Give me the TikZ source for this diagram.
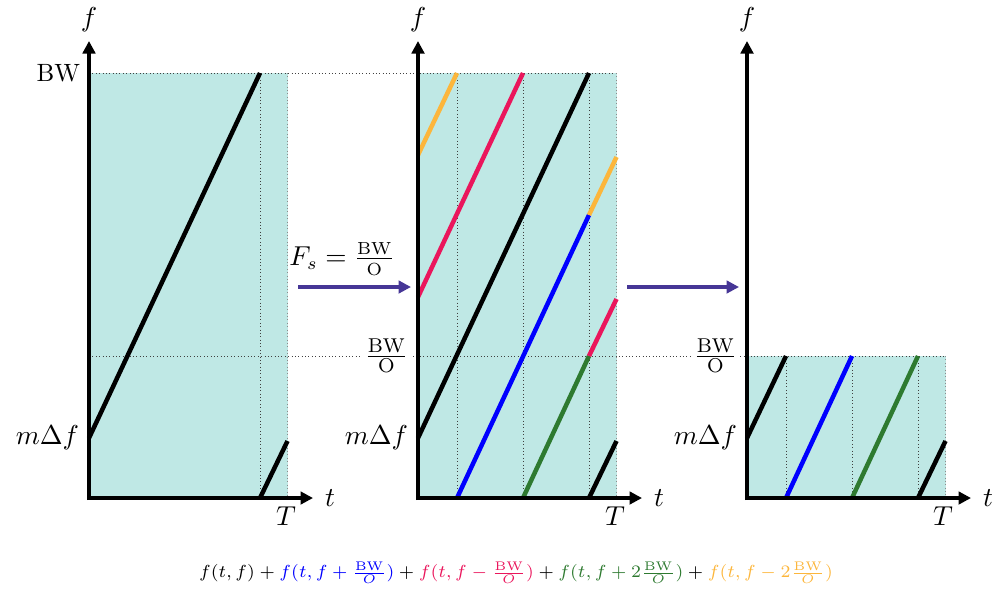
\documentclass[tikz,border=0pt]{standalone}
\usetikzlibrary{arrows.meta}
\definecolor{shadec}{RGB}{191,232,229}
\definecolor{cblue}{RGB}{0,0,255}
\definecolor{cred}{RGB}{234,22,92}
\definecolor{cgreen}{RGB}{46,122,48}
\definecolor{corange}{RGB}{252,182,60}
\definecolor{carrow}{RGB}{70,54,150}
\begin{document}
\begin{tikzpicture}[x=0.4pt,y=-0.4pt,font=\fontsize{11}{13}\selectfont,
  axis/.style={line width=1.7pt,-{Triangle[length=5pt,width=5pt]}},
  chirp/.style={line width=1.8pt},
  guide/.style={densely dotted,line width=0.35pt,black!75},
  edge/.style={densely dotted,line width=0.35pt,black!45},
  bigarrow/.style={line width=1.6pt,carrow,-{Triangle[length=5pt,width=5pt]}},
  lbl/.style={inner sep=1pt}]
\useasboundingbox (0,0) rectangle (997,593);

% origins
\coordinate (o1) at (89,498);
\coordinate (o2) at (418,498);
\coordinate (o3) at (747,498);

% shaded regions
\fill[shadec] (89,73) rectangle (287.5,498);
\fill[shadec] (418,73) rectangle (616.5,498);
\fill[shadec] (747,356) rectangle (945.5,498);

% guide lines
\coordinate (g1a) at (89,73);  \coordinate (g1b) at (616.5,73);
\draw[guide] (g1a) -- (g1b);
\coordinate (g2a) at (89,356); \coordinate (g2b) at (945.5,356);
\draw[guide] (g2a) -- (g2b);
% panel 1
\draw[guide] (260,73) -- (260,498);
\draw[edge] (287.5,73) -- (287.5,498);
% panel 2
\draw[guide] (457,73) -- (457,498);
\draw[guide] (523,73) -- (523,498);
\draw[guide] (589,73) -- (589,498);
\draw[edge] (616.5,73) -- (616.5,498);
% panel 3
\draw[guide] (786,356) -- (786,498);
\draw[guide] (852,356) -- (852,498);
\draw[guide] (918,356) -- (918,498);
\draw[edge] (945.5,356) -- (945.5,498);

% chirps panel 1
\draw[chirp] (89,438) -- (260,73);
\draw[chirp] (260,498) -- (287.5,441);
% chirps panel 2
\draw[chirp,corange] (418,155) -- (457,73);
\draw[chirp,cred] (418,297) -- (523,73);
\draw[chirp] (418,438) -- (589,73);
\draw[chirp,cblue] (457,498) -- (589,215);
\draw[chirp,corange] (589,215) -- (616.5,157);
\draw[chirp,cgreen] (523,498) -- (589,356);
\draw[chirp,cred] (589,356) -- (616.5,299);
\draw[chirp] (589,498) -- (616.5,441);
% chirps panel 3
\draw[chirp] (747,438) -- (786,356);
\draw[chirp,cblue] (786,498) -- (852,356);
\draw[chirp,cgreen] (852,498) -- (918,356);
\draw[chirp] (918,498) -- (945.5,441);

% axes
\foreach \o/\n in {o1/1,o2/2,o3/3}{
  \draw[axis] ([yshift=-0.8pt]\o) -- ++(0,-459) node[above=2pt,lbl] (f\n) {$f$};
  \draw[axis] ([xshift=-0.8pt]\o) -- ++(226,0) node[right=3pt,lbl] (t\n) {$t$};
}
% T labels
\node[lbl] (T1) at (286,516) {$T$};
\node[lbl] (T2) at (615,516) {$T$};
\node[lbl] (T3) at (943,516) {$T$};

% left labels
\node[lbl,anchor=east,font=\normalsize] (bw1) at (83,73) {BW};
\node[lbl,anchor=east] (md1) at (82,438) {$m\Delta f$};
\node[lbl,anchor=east] (md2) at (411,438) {$m\Delta f$};
\node[lbl,anchor=east] (md3) at (740,438) {$m\Delta f$};
\node[lbl,anchor=east,fill=white] (bo2) at (411,356) {$\frac{\mathrm{BW}}{\mathrm{O}}$};
\node[lbl,anchor=east,fill=white] (bo3) at (740,356) {$\frac{\mathrm{BW}}{\mathrm{O}}$};

% transformation arrows
\coordinate (a1s) at (298,287); \coordinate (a1e) at (411,287);
\draw[bigarrow] (a1s) -- (a1e);
\node[lbl,font=\fontsize{10.5}{12}\selectfont] (fs) at (342,259) {$F_s=\frac{\mathrm{BW}}{\mathrm{O}}$};
\coordinate (a2s) at (627,287); \coordinate (a2e) at (739,287);
\draw[bigarrow] (a2s) -- (a2e);

% formula
\node[lbl,font=\scriptsize] (formula) at (516,573) {$f(t,f)+{\color{cblue}f(t,f+\frac{\mathrm{BW}}{O})}+{\color{cred}f(t,f-\frac{\mathrm{BW}}{O})}+{\color{cgreen}f(t,f+2\frac{\mathrm{BW}}{O})}+{\color{corange}f(t,f-2\frac{\mathrm{BW}}{O})}$};
\end{tikzpicture}
\end{document}
